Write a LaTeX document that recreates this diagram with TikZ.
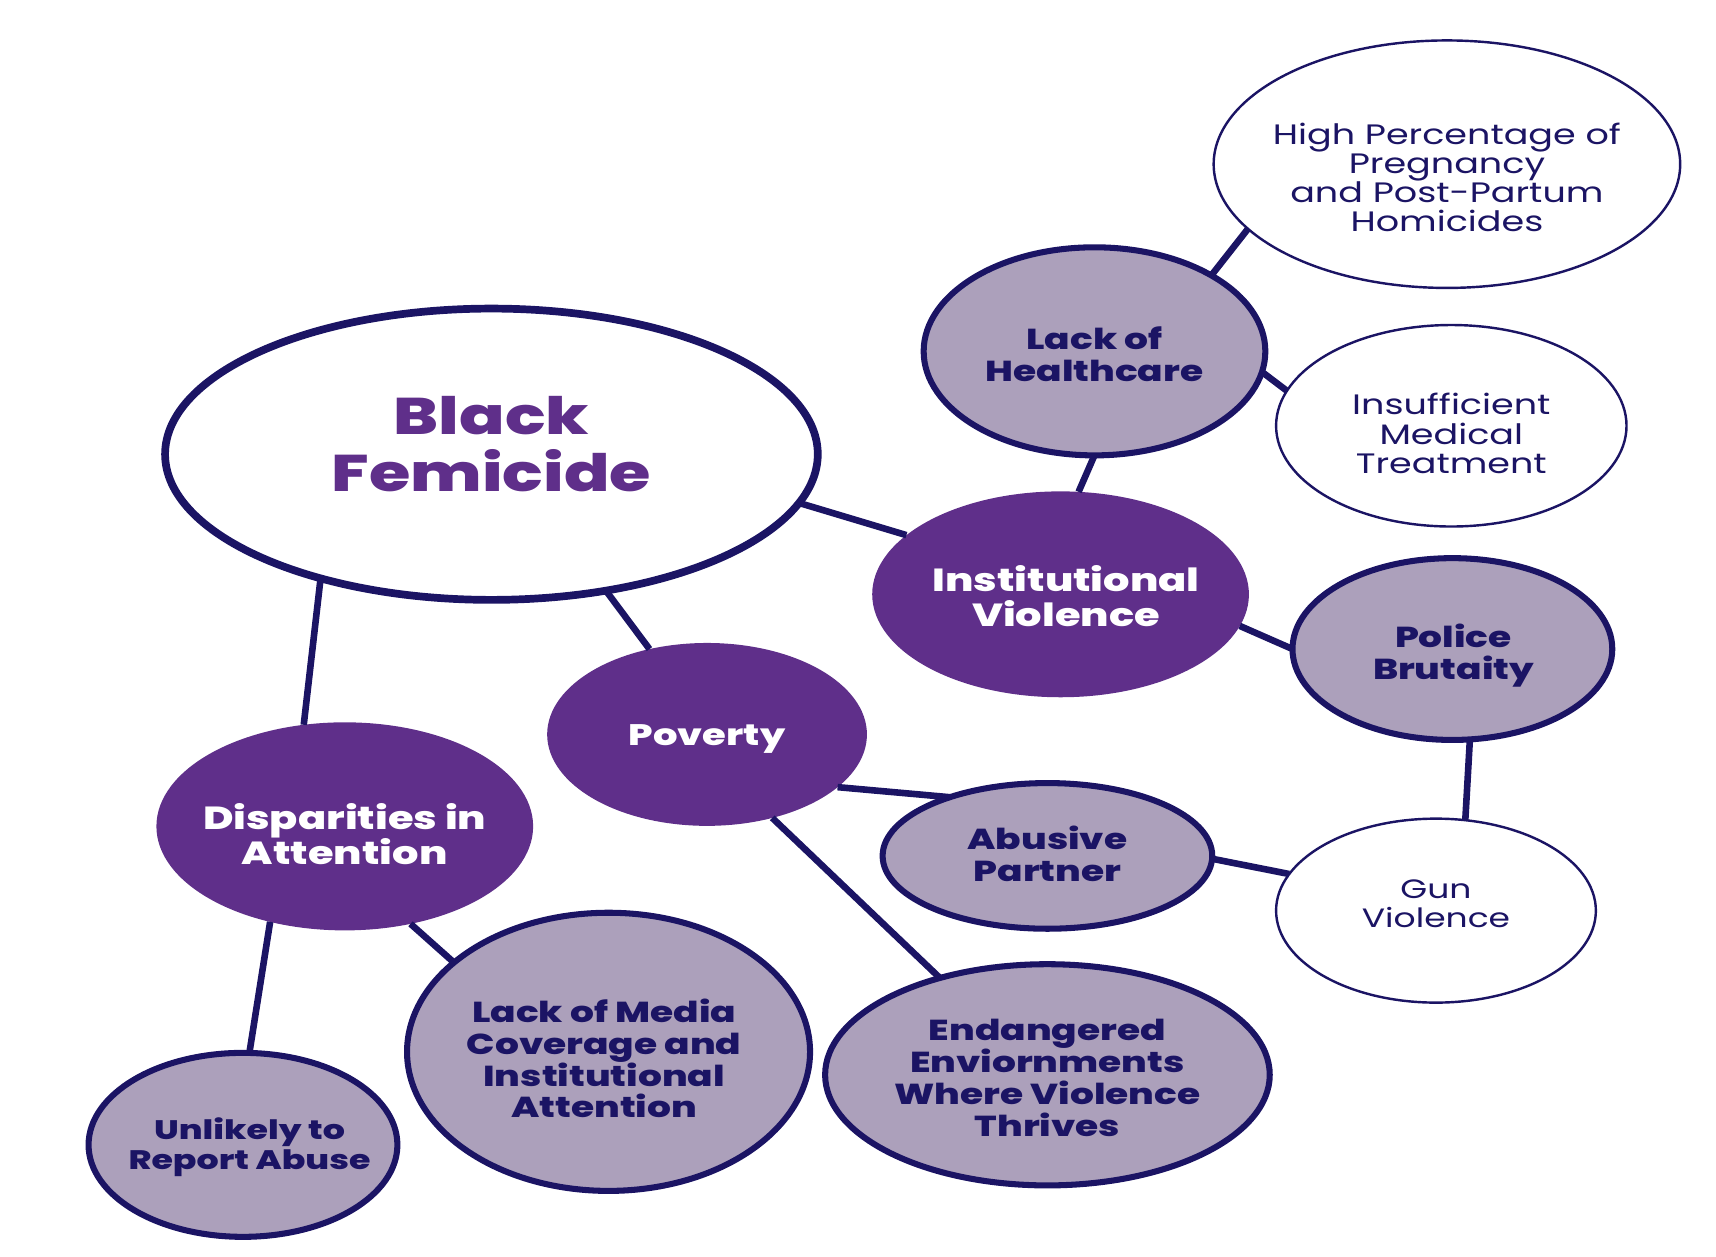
\documentclass[tikz,border=0pt]{standalone}
\usepackage{fontspec}
\setmainfont{Poppins}[FakeStretch=1.3]
\newfontfamily\xbold{Poppins ExtraBold}[FakeStretch=1.3]
\usetikzlibrary{shapes.geometric}
\definecolor{navy}{HTML}{1B1464}
\definecolor{purp}{HTML}{5F2F8A}
\definecolor{lav}{HTML}{ACA0BB}
\lineskiplimit=-100pt
\tikzset{
  ell/.style={ellipse, inner sep=0pt, outer sep=0pt},
  mainell/.style={ell, draw=navy, line width=0.07cm, fill=white},
  lavell/.style={ell, draw=navy, line width=0.055cm, fill=lav},
  purpell/.style={ell, fill=purp},
  whiteell/.style={ell, draw=navy, line width=0.022cm, fill=white},
  maintxt/.style={align=center, text=purp, font=\xbold\fontsize{13.4}{14.8}\selectfont, inner sep=0pt},
  lavtxt/.style={align=center, text=navy, font=\xbold\fontsize{7.5}{8.3}\selectfont, inner sep=0pt},
  unltxt/.style={align=center, text=navy, font=\xbold\fontsize{6.95}{7.7}\selectfont, inner sep=0pt},
  purptxt/.style={align=center, text=white, font=\xbold\fontsize{8.3}{9.1}\selectfont, inner sep=0pt},
  povtxt/.style={align=center, text=white, font=\xbold\fontsize{7.7}{9.1}\selectfont, inner sep=0pt},
  whitetxt/.style={align=center, text=navy, font=\fontsize{7.3}{7.55}\selectfont, inner sep=0pt},
  guntxt/.style={align=center, text=navy, font=\fontsize{6.9}{7.55}\selectfont, inner sep=0pt},
  link/.style={draw=navy, line width=0.06cm},
}
\begin{document}
\begin{tikzpicture}[x=0.01cm, y=-0.01cm]
\useasboundingbox (0,0) rectangle (1560,1142);
\begin{scope}[scale=0.995, transform shape]
\node[mainell, minimum width=5.96cm, minimum height=2.66cm] (bf) at (449,415) {};
\node[lavell, minimum width=3.12cm, minimum height=1.90cm] (lh) at (1000,321) {};
\node[whiteell, minimum width=4.26cm, minimum height=2.26cm] (hp) at (1322,150) {};
\node[whiteell, minimum width=3.20cm, minimum height=1.84cm] (ins) at (1326,389) {};
\node[purpell, minimum width=3.44cm, minimum height=1.88cm] (iv) at (969,543) {};
\node[lavell, minimum width=2.92cm, minimum height=1.66cm] (pb) at (1327,593) {};
\node[purpell, minimum width=2.92cm, minimum height=1.67cm] (pov) at (646,671) {};
\node[purpell, minimum width=3.44cm, minimum height=1.90cm] (dis) at (315,755) {};
\node[lavell, minimum width=3.01cm, minimum height=1.33cm] (abu) at (957,782) {};
\node[whiteell, minimum width=2.92cm, minimum height=1.68cm] (gun) at (1312,832) {};
\node[lavell, minimum width=3.68cm, minimum height=2.54cm] (lm) at (556,961) {};
\node[lavell, minimum width=4.06cm, minimum height=2.02cm] (end) at (957,982) {};
\node[lavell, minimum width=2.82cm, minimum height=1.68cm] (unl) at (222,1046) {};

\draw[link] (bf.351) -- (iv.159);
\draw[link] (bf.310) -- (pov.124.5);
\draw[link] (bf.216) -- (dis.112);
\draw[link] (lh.33.6) -- (hp.198.3);
\draw[link] (lh.353) -- (ins.168);
\draw[link] (lh.270) -- (iv.80);
\draw[link] (iv.350) -- (pb.180);
\draw[link] (pb.281.4) -- (gun.72.2);
\draw[link] (pov.338.3) -- (abu.149.3);
\draw[link] (pov.308.7) -- (end.138);
\draw[link] (abu.359.6) -- (gun.166.7);
\draw[link] (dis.304.7) -- (lm.150.5);
\draw[link] (dis.232.3) -- (unl.86.6);

\node[maintxt] (bft) at (449,406) {Black\\Femicide};
\node[lavtxt] (lht) at (1000,324) {Lack of\\Healthcare};
\node[whitetxt] (hpt) at (1322,162) {High Percentage of\\Pregnancy\\and Post-Partum\\Homicides};
\node[whitetxt] (inst) at (1326,396) {Insufficient\\Medical\\Treatment};
\node[purptxt] (ivt) at (974,545) {Institutional\\Violence};
\node[lavtxt] (pbt) at (1328,599) {Police\\Brutaity};
\node[povtxt] (povt) at (646,675) {Poverty};
\node[purptxt] (dist) at (315,762) {Disparities in\\Attention};
\node[lavtxt] (abut) at (957,780) {Abusive\\Partner};
\node[guntxt] (gunt) at (1312,826) {Gun\\Violence};
\node[lavtxt] (lmt) at (552,967) {Lack of Media\\Coverage and\\Institutional\\Attention};
\node[lavtxt] (endt) at (957,985) {Endangered\\Enviornments\\Where Violence\\Thrives};
\node[unltxt] (unlt) at (228,1048) {Unlikely to\\Report Abuse};
\end{scope}
\end{tikzpicture}
\end{document}
